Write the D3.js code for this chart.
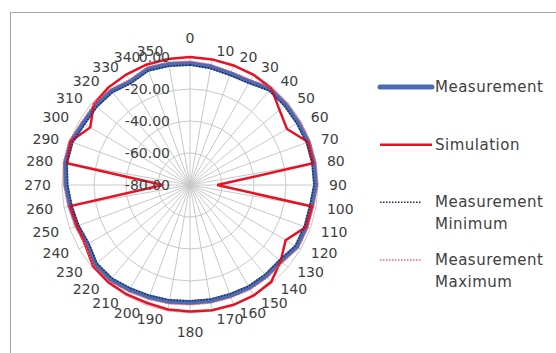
<!DOCTYPE html>
<html>
<head>
<meta charset="utf-8">
<script src="https://cdn.jsdelivr.net/npm/d3@7"></script>
<style>
  body { margin: 0; background: #fff; }
  text { font-family: "DejaVu Sans", sans-serif; }
</style>
</head>
<body>
<div class="container"></div>
<script>
// angles (categories), 10 degree steps
var angles = [0,10,20,30,40,50,60,70,80,90,100,110,120,130,140,150,160,170,
              180,190,200,210,220,230,240,250,260,270,280,290,300,310,320,330,340,350];

// values in dB
var measurement = [-4,-5,-6,-5.5,-2,-2,-2,-1.5,-1.5,-1.5,-3,-3,-3,-6,-6,-6,-6.5,-6.5,
                   -6.5,-6,-5.5,-4.5,-3,-3,-6,-5,-4,-2.5,-1,-1,-3,-3,-3.5,-5.5,-3,-3.5];
var simulation  = [0,-0.3,-0.5,-0.5,-1,-7,-10,-1.5,-2,-63,-2.5,-3,-11,-6,-1,-0.3,-0.3,-0.5,
                   -1,-1,-1.5,-1,-0.6,-1,-4.5,-5,-4,-63,-2,-0.5,-8,-1.5,-0.5,-0.3,0,0];
var measMin     = [-5,-6,-7,-6.5,-3,-3,-3,-2.5,-2.5,-2.5,-4,-4,-4,-7,-7,-7,-7.5,-7.5,
                   -7.5,-7,-6.5,-5.5,-4,-4,-7,-6,-5,-3.5,-2,-2,-4,-4,-4.5,-6.5,-4,-4.5];
var measMax     = [-2.5,-3.5,-4.5,-4,-0.5,-0.5,-0.5,0,0,0,-1.5,-1.5,-1.5,-4.5,-4.5,-4.5,-5,-5,
                   -5,-4.5,-4,-3,-1.5,-1.5,-4.5,-3.5,-2.5,-1,0.5,0.5,-1.5,-1.5,-2,-4,-1.5,-2];

var ticks = [-80,-60,-40,-20,0];
var legendNames = [["Measurement"],["Simulation"],["Measurement","Minimum"],["Measurement","Maximum"]];

const WIDTH = 556;
const HEIGHT = 353;
const CX = 190, CY = 185, RADIUS = 128;

var svg = d3.select('.container').append('svg')
  .attr('width', WIDTH)
  .attr('height', HEIGHT);

svg.append('rect')
  .attr('x', 10.5).attr('y', 12.5)
  .attr('width', 600).attr('height', 400)
  .attr('fill', '#fff').attr('stroke', '#a6a6a6');

var _r = d3.scaleLinear().domain([-80, 0]).range([0, RADIUS]);
var _a = d3.scaleLinear().domain([0, angles.length]).range([0, 2 * Math.PI]);

var g = svg.append('g').attr('transform', 'translate(' + CX + ',' + CY + ')');

// spokes
g.selectAll('.spoke').data(angles).enter().append('line')
  .attr('x1', 0).attr('y1', 0)
  .attr('x2', function(d,i){ return RADIUS * Math.sin(_a(i)); })
  .attr('y2', function(d,i){ return -RADIUS * Math.cos(_a(i)); })
  .attr('stroke', '#c8c8c8').attr('stroke-width', 1);

// rings
var ring = d3.lineRadial().angle(function(d,i){ return _a(i); }).curve(d3.curveLinearClosed);
g.selectAll('.ring').data(ticks.slice(1)).enter().append('path')
  .attr('d', function(t){ return ring.radius(_r(t))(angles); })
  .attr('fill', 'none').attr('stroke', '#c8c8c8').attr('stroke-width', 1);

var line = d3.lineRadial()
  .angle(function(d,i){ return _a(i); })
  .radius(function(d){ return _r(d); })
  .curve(d3.curveLinearClosed);

g.append('path').datum(measurement).attr('d', line)
  .attr('fill', 'none').attr('stroke', '#4a6cb3').attr('stroke-width', 5)
  .attr('stroke-linejoin', 'round');
g.append('path').datum(simulation).attr('d', line)
  .attr('fill', 'none').attr('stroke', '#e81123').attr('stroke-width', 2.5)
  .attr('stroke-linejoin', 'miter');
g.append('path').datum(measMin).attr('d', line)
  .attr('fill', 'none').attr('stroke', '#1f2a55').attr('stroke-width', 1.5)
  .attr('stroke-dasharray', '1.5,1.5');
g.append('path').datum(measMax).attr('d', line)
  .attr('fill', 'none').attr('stroke', '#ff6070').attr('stroke-width', 1.2)
  .attr('stroke-dasharray', '1.5,1.5');

// value labels
g.selectAll('.vlab').data(ticks).enter().append('text')
  .attr('x', -20).attr('y', function(t){ return -_r(t); })
  .attr('text-anchor', 'end').attr('dominant-baseline', 'central')
  .attr('font-size', 14).attr('fill', '#404040')
  .text(function(t){ return t.toFixed(2); });

// category labels: beside the circle on the sides, above/below at the poles
var LR = 136;
g.selectAll('.clab').data(angles).enter().append('text')
  .attr('font-size', 14).attr('fill', '#404040')
  .attr('text-anchor', 'middle').attr('dominant-baseline', 'central')
  .text(function(d){ return d; })
  .each(function(d,i){
    var w = this.getComputedTextLength(), a = _a(i);
    var s = Math.round(Math.sin(a) * 1e6) / 1e6, c = Math.cos(a);
    var x, y;
    if (s === 0) {
      x = 0;
      y = -(LR + 11) * c;
    } else {
      x = LR * s + Math.sign(s) * (w / 2 + 3);
      y = -LR * c;
    }
    d3.select(this).attr('x', x).attr('y', y);
  });

// legend
var legY = d3.scalePoint().domain(d3.range(legendNames.length)).range([87, 260]);
var leg = svg.selectAll('.leg').data(legendNames).enter().append('g')
  .attr('transform', function(d,i){ return 'translate(378,' + legY(i) + ')'; });

leg.each(function(d,i){
  var s = d3.select(this);
  if (i === 0) {
    s.append('line').attr('x1', 2).attr('x2', 54).attr('stroke', '#4a6cb3')
      .attr('stroke-width', 5).attr('stroke-linecap', 'round');
  } else if (i === 1) {
    s.append('line').attr('x1', 2).attr('x2', 54).attr('stroke', '#e81123').attr('stroke-width', 2.5);
  } else {
    s.append('line').attr('x1', 2).attr('x2', 44)
      .attr('stroke', i === 2 ? '#1f2a55' : '#ff6070').attr('stroke-width', 1.5)
      .attr('stroke-dasharray', '1.5,1.5');
  }
  s.selectAll('text').data(d).enter().append('text')
    .attr('x', 57).attr('y', function(t,j){ return j * 22; })
    .attr('dominant-baseline', 'central')
    .attr('font-size', 15).attr('letter-spacing', 0.5).attr('fill', '#404040')
    .text(function(t){ return t; });
});
</script>
</body>
</html>
